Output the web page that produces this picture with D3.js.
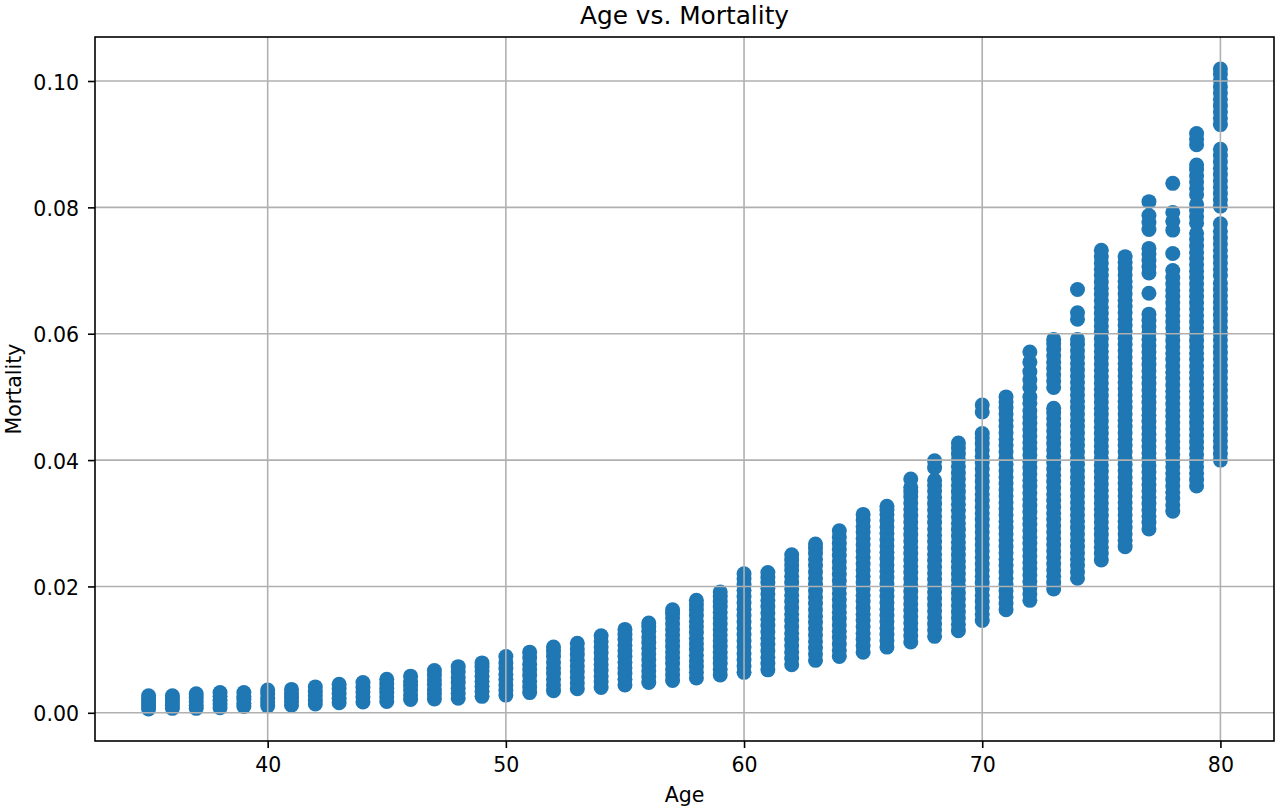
<!DOCTYPE html>
<html><head><meta charset="utf-8">
<script src="https://cdn.jsdelivr.net/npm/d3@7"></script>
<style>
body{margin:0;background:#fff}
svg{display:block}
text{font-family:"DejaVu Sans",sans-serif}
</style>
</head><body>
<svg id="chart" width="1280" height="810"></svg>
<script>
// ---- data ----
const ages = [35,36,37,38,39,40,41,42,43,44,45,46,47,48,49,50,51,52,53,54,55,56,57,58,59,60,61,62,63,64,65,66,67,68,69,70,71,72,73,74,75,76,77,78,79,80];

const age35 = [0.0006,0.0011,0.0016,0.0021,0.0027];
const age36 = [0.0007,0.0012,0.0017,0.0022,0.0027];
const age37 = [0.0007,0.0012,0.0018,0.0024,0.0030];
const age38 = [0.0008,0.0014,0.0020,0.0026,0.0032];
const age39 = [0.0010,0.0015,0.0021,0.0026,0.0032];
const age40 = [0.0011,0.0017,0.0023,0.0030,0.0036];
const age41 = [0.0012,0.0018,0.0024,0.0031,0.0037];
const age42 = [0.0014,0.0020,0.0027,0.0034,0.0041];
const age43 = [0.0016,0.0023,0.0030,0.0038,0.0045];
const age44 = [0.0017,0.0025,0.0033,0.0040,0.0048];
const age45 = [0.0018,0.0025,0.0032,0.0039,0.0046,0.0053];
const age46 = [0.0021,0.0028,0.0036,0.0043,0.0050,0.0058];
const age47 = [0.0022,0.0030,0.0037,0.0045,0.0052,0.0060,0.0067];
const age48 = [0.0023,0.0031,0.0039,0.0048,0.0056,0.0065,0.0073];
const age49 = [0.0026,0.0034,0.0042,0.0050,0.0058,0.0066,0.0073,0.0079];
const age50 = [0.0028,0.0036,0.0044,0.0053,0.0061,0.0070,0.0079,0.0089];
const age51 = [0.0032,0.0041,0.0050,0.0059,0.0068,0.0077,0.0087,0.0096];
const age52 = [0.0035,0.0044,0.0053,0.0062,0.0071,0.0080,0.0089,0.0097,0.0104];
const age53 = [0.0038,0.0047,0.0056,0.0065,0.0074,0.0083,0.0092,0.0101,0.0110];
const age54 = [0.0040,0.0049,0.0058,0.0067,0.0076,0.0085,0.0095,0.0104,0.0113,0.0122];
const age55 = [0.0044,0.0053,0.0062,0.0071,0.0080,0.0089,0.0098,0.0107,0.0116,0.0124,0.0132];
const age56 = [0.0048,0.0057,0.0066,0.0075,0.0084,0.0093,0.0102,0.0111,0.0120,0.0129,0.0136,0.0142];
const age57 = [0.0051,0.0060,0.0069,0.0078,0.0087,0.0096,0.0105,0.0114,0.0123,0.0132,0.0141,0.0150,0.0157,0.0163];
const age58 = [0.0055,0.0064,0.0073,0.0082,0.0091,0.0100,0.0109,0.0118,0.0127,0.0136,0.0145,0.0154,0.0163,0.0171,0.0178];
const age59 = [0.0060,0.0069,0.0078,0.0087,0.0096,0.0105,0.0114,0.0123,0.0132,0.0141,0.0150,0.0159,0.0168,0.0176,0.0184,0.0191];
const age60 = [0.0064,0.0074,0.0084,0.0094,0.0104,0.0114,0.0124,0.0134,0.0144,0.0154,0.0164,0.0174,0.0184,0.0194,0.0203,0.0212,0.0220];
const age61 = [0.0068,0.0078,0.0088,0.0098,0.0108,0.0118,0.0128,0.0138,0.0148,0.0158,0.0168,0.0178,0.0188,0.0197,0.0206,0.0214,0.0222];
const age62 = [0.0076,0.0086,0.0096,0.0106,0.0116,0.0126,0.0136,0.0146,0.0156,0.0166,0.0176,0.0186,0.0196,0.0206,0.0216,0.0226,0.0234,0.0242,0.0250];
const age63 = [0.0083,0.0093,0.0103,0.0113,0.0123,0.0133,0.0143,0.0153,0.0163,0.0173,0.0183,0.0193,0.0203,0.0213,0.0223,0.0233,0.0243,0.0252,0.0260,0.0267];
const age64 = [0.0089,0.0099,0.0109,0.0119,0.0129,0.0139,0.0149,0.0159,0.0169,0.0179,0.0189,0.0199,0.0209,0.0219,0.0229,0.0239,0.0249,0.0259,0.0268,0.0278,0.0288];
const age65 = [0.0096,0.0106,0.0116,0.0126,0.0136,0.0146,0.0156,0.0166,0.0176,0.0186,0.0196,0.0206,0.0216,0.0226,0.0236,0.0246,0.0256,0.0266,0.0276,0.0286,0.0295,0.0305,0.0314];
const age66 = [0.0104,0.0114,0.0124,0.0134,0.0144,0.0154,0.0164,0.0174,0.0184,0.0194,0.0204,0.0214,0.0224,0.0234,0.0244,0.0254,0.0264,0.0274,0.0284,0.0294,0.0304,0.0314,0.0321,0.0327];
const age67 = [0.0112,0.0122,0.0132,0.0142,0.0152,0.0162,0.0172,0.0182,0.0192,0.0202,0.0212,0.0222,0.0232,0.0242,0.0252,0.0262,0.0272,0.0282,0.0292,0.0302,0.0312,0.0322,0.0332,0.0342,0.0350,0.0357,0.0370];
const age68 = [0.0121,0.0131,0.0141,0.0151,0.0161,0.0171,0.0181,0.0191,0.0201,0.0211,0.0221,0.0231,0.0241,0.0251,0.0261,0.0271,0.0281,0.0291,0.0301,0.0311,0.0321,0.0331,0.0341,0.0351,0.0360,0.0368,0.0388,0.0399];
const age69 = [0.0130,0.0140,0.0150,0.0160,0.0170,0.0180,0.0190,0.0200,0.0210,0.0220,0.0230,0.0240,0.0250,0.0260,0.0270,0.0280,0.0290,0.0300,0.0310,0.0320,0.0330,0.0340,0.0350,0.0360,0.0370,0.0380,0.0390,0.0400,0.0410,0.0419,0.0427];
const age70 = [0.0146,0.0156,0.0166,0.0176,0.0186,0.0196,0.0206,0.0216,0.0226,0.0236,0.0246,0.0256,0.0266,0.0276,0.0286,0.0296,0.0306,0.0316,0.0326,0.0336,0.0346,0.0356,0.0366,0.0376,0.0386,0.0396,0.0406,0.0416,0.0426,0.0435,0.0442,0.0476,0.0487];
const age71 = [0.0163,0.0173,0.0183,0.0193,0.0203,0.0213,0.0223,0.0233,0.0243,0.0253,0.0263,0.0273,0.0283,0.0293,0.0303,0.0313,0.0323,0.0333,0.0343,0.0353,0.0363,0.0373,0.0383,0.0393,0.0403,0.0413,0.0423,0.0433,0.0443,0.0453,0.0463,0.0473,0.0483,0.0492,0.0500];
const age72 = [0.0178,0.0188,0.0198,0.0208,0.0218,0.0228,0.0238,0.0248,0.0258,0.0268,0.0278,0.0288,0.0298,0.0308,0.0318,0.0328,0.0338,0.0348,0.0358,0.0368,0.0378,0.0388,0.0398,0.0408,0.0418,0.0428,0.0438,0.0448,0.0458,0.0468,0.0478,0.0490,0.0500,0.0515,0.0527,0.0540,0.0555,0.0571];
const age73 = [0.0196,0.0206,0.0216,0.0226,0.0236,0.0246,0.0256,0.0266,0.0276,0.0286,0.0296,0.0306,0.0316,0.0326,0.0336,0.0346,0.0356,0.0366,0.0376,0.0386,0.0396,0.0406,0.0416,0.0426,0.0436,0.0446,0.0456,0.0466,0.0475,0.0482,0.0515,0.0525,0.0535,0.0545,0.0555,0.0565,0.0575,0.0584,0.0591];
const age74 = [0.0213,0.0223,0.0233,0.0243,0.0253,0.0263,0.0273,0.0283,0.0293,0.0303,0.0313,0.0323,0.0333,0.0343,0.0353,0.0363,0.0373,0.0383,0.0393,0.0403,0.0413,0.0423,0.0433,0.0443,0.0453,0.0463,0.0473,0.0483,0.0493,0.0503,0.0513,0.0523,0.0533,0.0543,0.0553,0.0563,0.0573,0.0583,0.0591,0.0623,0.0633,0.0670];
const age75 = [0.0242,0.0252,0.0262,0.0272,0.0282,0.0292,0.0302,0.0312,0.0322,0.0332,0.0342,0.0352,0.0362,0.0372,0.0382,0.0392,0.0402,0.0412,0.0422,0.0432,0.0442,0.0452,0.0462,0.0472,0.0482,0.0492,0.0502,0.0512,0.0522,0.0532,0.0542,0.0552,0.0562,0.0572,0.0582,0.0592,0.0602,0.0612,0.0622,0.0632,0.0642,0.0652,0.0662,0.0672,0.0682,0.0692,0.0702,0.0712,0.0722,0.0732];
const age76 = [0.0263,0.0273,0.0283,0.0293,0.0303,0.0313,0.0323,0.0333,0.0343,0.0353,0.0363,0.0373,0.0383,0.0393,0.0403,0.0413,0.0423,0.0433,0.0443,0.0453,0.0463,0.0473,0.0483,0.0493,0.0503,0.0513,0.0523,0.0533,0.0543,0.0553,0.0563,0.0573,0.0583,0.0593,0.0603,0.0613,0.0623,0.0633,0.0643,0.0653,0.0663,0.0673,0.0683,0.0693,0.0703,0.0713,0.0722];
const age77 = [0.0291,0.0301,0.0311,0.0321,0.0331,0.0341,0.0351,0.0361,0.0371,0.0381,0.0391,0.0401,0.0411,0.0421,0.0431,0.0441,0.0451,0.0461,0.0471,0.0481,0.0491,0.0501,0.0511,0.0521,0.0531,0.0541,0.0551,0.0561,0.0571,0.0581,0.0591,0.0601,0.0611,0.0621,0.0631,0.0664,0.0696,0.0706,0.0716,0.0726,0.0735,0.0765,0.0776,0.0787,0.0809];
const age78 = [0.0319,0.0329,0.0339,0.0349,0.0359,0.0369,0.0379,0.0389,0.0399,0.0409,0.0419,0.0429,0.0439,0.0449,0.0459,0.0469,0.0479,0.0489,0.0499,0.0509,0.0519,0.0529,0.0539,0.0549,0.0559,0.0569,0.0579,0.0589,0.0599,0.0609,0.0619,0.0629,0.0639,0.0649,0.0659,0.0669,0.0679,0.0689,0.0700,0.0727,0.0764,0.0778,0.0792,0.0838];
const age79 = [0.0359,0.0369,0.0379,0.0389,0.0399,0.0409,0.0419,0.0429,0.0439,0.0449,0.0459,0.0469,0.0479,0.0489,0.0499,0.0509,0.0519,0.0529,0.0539,0.0549,0.0559,0.0569,0.0579,0.0589,0.0599,0.0609,0.0619,0.0629,0.0639,0.0649,0.0659,0.0669,0.0679,0.0689,0.0699,0.0709,0.0719,0.0729,0.0739,0.0749,0.0759,0.0775,0.0785,0.0795,0.0805,0.0820,0.0830,0.0840,0.0850,0.0860,0.0867,0.0899,0.0908,0.0917];
const age80 = [0.0400,0.0410,0.0420,0.0430,0.0440,0.0450,0.0460,0.0470,0.0480,0.0490,0.0500,0.0510,0.0520,0.0530,0.0540,0.0550,0.0560,0.0570,0.0580,0.0590,0.0600,0.0610,0.0620,0.0630,0.0640,0.0650,0.0660,0.0670,0.0680,0.0692,0.0702,0.0712,0.0722,0.0732,0.0742,0.0752,0.0762,0.0774,0.0802,0.0812,0.0822,0.0832,0.0842,0.0852,0.0862,0.0872,0.0882,0.0892,0.0931,0.0941,0.0951,0.0961,0.0971,0.0981,0.0991,0.1001,0.1011,0.1019];

const mortalityColumns = [age35,age36,age37,age38,age39,age40,age41,age42,age43,age44,age45,age46,age47,age48,age49,age50,age51,age52,age53,age54,age55,age56,age57,age58,age59,age60,age61,age62,age63,age64,age65,age66,age67,age68,age69,age70,age71,age72,age73,age74,age75,age76,age77,age78,age79,age80];

const xTicks = [40,50,60,70,80];
const xTickLabels = ["40","50","60","70","80"];
const yTicks = [0.00,0.02,0.04,0.06,0.08,0.10];
const yTickLabels = ["0.00","0.02","0.04","0.06","0.08","0.10"];
const titleText = "Age vs. Mortality";
const xLabelText = "Age";
const yLabelText = "Mortality";

// ---- drawing ----
const svg = d3.select("#chart");
const L = 95, R = 1274, T = 37, B = 741;
const points = ages.flatMap((a, i) => mortalityColumns[i].map(m => ({age: a, m: m})));
const xExt = d3.extent(ages);
const yExt = d3.extent(points, d => d.m);
const xPad = (xExt[1] - xExt[0]) * 0.05;
const yPad = (yExt[1] - yExt[0]) * 0.05;
const x = d3.scaleLinear().domain([xExt[0] - xPad, xExt[1] + xPad]).range([L, R]);
const y = d3.scaleLinear().domain([yExt[0] - yPad, yExt[1] + yPad]).range([B, T]);

svg.append("rect").attr("width", 1280).attr("height", 810).attr("fill", "#fff");

// points
svg.append("g")
  .selectAll("circle").data(points).enter().append("circle")
  .attr("cx", d => x(d.age)).attr("cy", d => y(d.m))
  .attr("r", 7.5).attr("fill", "#1f77b4");

// grid (drawn above points like matplotlib)
const grid = svg.append("g").attr("stroke", "#b0b0b0").attr("stroke-width", 1.6);
grid.selectAll("line.gx").data(xTicks).enter().append("line")
  .attr("x1", d => x(d)).attr("x2", d => x(d)).attr("y1", T).attr("y2", B);
grid.selectAll("line.gy").data(yTicks).enter().append("line")
  .attr("y1", d => y(d)).attr("y2", d => y(d)).attr("x1", L).attr("x2", R);

// axes
const xAxis = svg.append("g").attr("transform", `translate(0,${B})`)
  .call(d3.axisBottom(x).tickValues(xTicks).tickFormat((d, i) => xTickLabels[i]).tickSize(7).tickPadding(9));
const yAxis = svg.append("g").attr("transform", `translate(${L},0)`)
  .call(d3.axisLeft(y).tickValues(yTicks).tickFormat((d, i) => yTickLabels[i]).tickSize(7).tickPadding(9));
[xAxis, yAxis].forEach(g => {
  g.select(".domain").remove();
  g.attr("font-family", null).attr("font-size", null);
  g.selectAll(".tick line").attr("stroke", "#000").attr("stroke-width", 1.6);
  g.selectAll(".tick text").attr("fill", "#000").style("font-size", "20.5px").style("font-family", "'DejaVu Sans', sans-serif");
});
yAxis.selectAll(".tick text").attr("dy", "0.4em");

// spines
svg.append("rect").attr("x", L).attr("y", T).attr("width", R - L).attr("height", B - T)
  .attr("fill", "none").attr("stroke", "#000").attr("stroke-width", 1.6);

// texts
svg.append("text").attr("x", (L + R) / 2).attr("y", 23.5).attr("text-anchor", "middle")
  .style("font-size", "24.8px").attr("fill", "#000").text(titleText);
svg.append("text").attr("x", (L + R) / 2).attr("y", 802).attr("text-anchor", "middle")
  .style("font-size", "20.5px").attr("fill", "#000").text(xLabelText);
svg.append("text").attr("transform", `translate(20.5,${(T + B) / 2}) rotate(-90)`).attr("text-anchor", "middle")
  .style("font-size", "20.5px").attr("fill", "#000").text(yLabelText);
</script>
</body></html>
